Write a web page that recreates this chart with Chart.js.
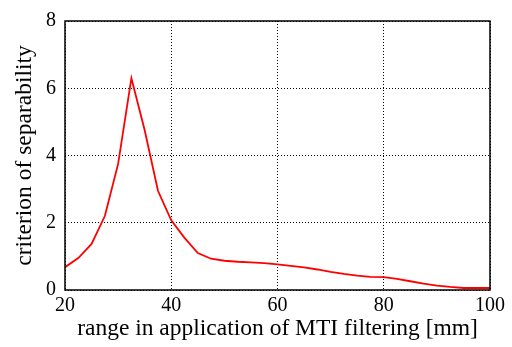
<!DOCTYPE html>
<html>
<head>
<meta charset="utf-8">
<script src="https://cdn.jsdelivr.net/npm/chart.js@4"></script>
<style>
  html, body { margin: 0; padding: 0; background: #fff; }
  #wrap { width: 512px; height: 347px; }
</style>
</head>
<body>
<div id="wrap"><canvas id="chart"></canvas></div>
<script>
// range in application of MTI filtering [mm]
var ranges = [20, 22.5, 25, 27.5, 30, 32.5, 35, 37.5, 40, 42.5, 45, 47.5, 50, 52.5, 55, 57.5,
              60, 62.5, 65, 67.5, 70, 72.5, 75, 77.5, 80, 82.5, 85, 87.5, 90, 92.5, 95, 97.5, 100];
// criterion of separability
var criterion = [0.68, 0.95, 1.37, 2.2, 3.75, 6.3, 4.75, 2.95, 2.07, 1.55, 1.1, 0.93, 0.87, 0.84, 0.82, 0.8,
                 0.76, 0.72, 0.67, 0.61, 0.54, 0.48, 0.43, 0.39, 0.38, 0.33, 0.26, 0.19, 0.13, 0.09, 0.06, 0.06, 0.06];
var xTicks = [20, 40, 60, 80, 100];
var yTicks = [0, 2, 4, 6, 8];

var points = [];
for (var i = 0; i < ranges.length; i++) {
    points.push({x: ranges[i], y: criterion[i]});
}

Chart.defaults.font.family = "'Liberation Serif', 'DejaVu Serif', serif";
Chart.defaults.color = '#000';

// box round the plot area
var frame = {
    id: 'frame',
    afterDraw: function(chart) {
        var a = chart.chartArea, ctx = chart.ctx;
        ctx.save();
        ctx.strokeStyle = '#000';
        ctx.lineWidth = 1.5;
        ctx.strokeRect(a.left, a.top, a.right - a.left, a.bottom - a.top);
        ctx.restore();
    }
};

new Chart(document.getElementById('chart'), {
    type: 'line',
    data: {
        datasets: [{
            data: points,
            borderColor: '#ff0000',
            borderWidth: 1.8,
            pointRadius: 0,
            tension: 0,
            fill: false
        }]
    },
    options: {
        responsive: true,
        maintainAspectRatio: false,
        animation: false,
        layout: { padding: { top: 16, right: 22, left: 0, bottom: 0 } },
        plugins: { legend: { display: false }, tooltip: { enabled: false } },
        scales: {
            x: {
                type: 'linear',
                min: 20, max: 100,
                afterBuildTicks: function(s) { s.ticks = xTicks.map(function(v) { return {value: v}; }); },
                afterFit: function(s) { s.height = 57; },
                grid: { color: '#000', lineWidth: 1, drawTicks: false },
                border: { display: false, dash: [1, 2] },
                ticks: { font: { size: 20 }, padding: 4, maxRotation: 0 },
                title: { display: true, text: 'range in application of MTI filtering [mm]',
                         font: { size: 23.5 }, padding: { top: 0, bottom: 4.5 } }
            },
            y: {
                min: 0, max: 8,
                afterBuildTicks: function(s) { s.ticks = yTicks.map(function(v) { return {value: v}; }); },
                afterFit: function(s) { s.width = 65; },
                grid: { color: '#000', lineWidth: 1, drawTicks: false },
                border: { display: false, dash: [1, 2] },
                ticks: { font: { size: 20 }, padding: 9 },
                title: { display: true, text: 'criterion of separability',
                         font: { size: 23.5 }, padding: { top: 11, bottom: 0 } }
            }
        }
    },
    plugins: [frame]
});
</script>
</body>
</html>
